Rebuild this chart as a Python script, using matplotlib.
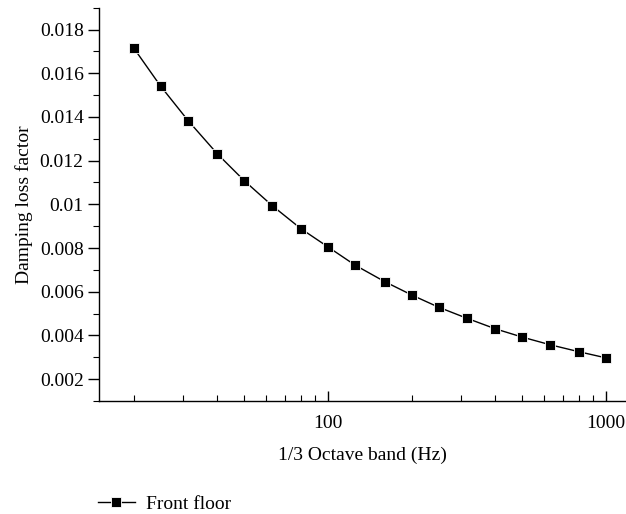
import numpy as np
import matplotlib
matplotlib.use("Agg")
import matplotlib.pyplot as plt
from matplotlib.ticker import LogLocator, FixedLocator, MultipleLocator, FuncFormatter

# ---------- data ----------
freq_hz = [20, 25, 31.5, 40, 50, 63, 80, 100, 125, 160, 200, 250,
           315, 400, 500, 630, 800, 1000]
loss_factor = [0.01716, 0.01541, 0.01381, 0.01231, 0.01108, 0.00994,
               0.00888, 0.00805, 0.00722, 0.00646, 0.00585, 0.00529,
               0.00479, 0.00430, 0.00392, 0.00357, 0.00325, 0.00297]
y_ticks = [0.002, 0.004, 0.006, 0.008, 0.01, 0.012, 0.014, 0.016, 0.018]
y_tick_labels = ["0.002", "0.004", "0.006", "0.008", "0.01", "0.012",
                 "0.014", "0.016", "0.018"]

plt.rcParams.update({
    "font.family": "serif",
    "font.serif": ["Liberation Serif", "DejaVu Serif"],
    "font.size": 14,
    "axes.linewidth": 1.0,
})

fig = plt.figure(figsize=(6.26, 5.14), dpi=100)
ax = fig.add_axes([0.158, 0.22, 0.842, 0.765])

line, = ax.plot(freq_hz, loss_factor, color="black", linewidth=1.0,
                marker="s", markersize=6.5, markerfacecolor="black",
                markeredgecolor="white", markeredgewidth=0.6,
                label="Front floor")

ax.set_xscale("log")
ax.set_xlim(15, 1180)
ax.set_ylim(0.001, 0.019)

ax.xaxis.set_major_locator(FixedLocator([100, 1000]))
ax.xaxis.set_major_formatter(FuncFormatter(lambda v, p: f"{int(v)}"))
ax.xaxis.set_minor_locator(LogLocator(base=10, subs=np.arange(2, 10)))
ax.xaxis.set_minor_formatter(FuncFormatter(lambda v, p: ""))

ax.set_yticks(y_ticks)
ax.set_yticklabels(y_tick_labels)
ax.yaxis.set_minor_locator(MultipleLocator(0.001))

ax.tick_params(axis="x", which="major", direction="in", length=7, width=1.0, pad=10)
ax.tick_params(axis="x", which="minor", direction="in", length=4, width=0.8)
ax.tick_params(axis="y", which="major", direction="out", length=8, width=1.0, pad=3)
ax.tick_params(axis="y", which="minor", direction="out", length=4.5, width=0.8)

ax.spines["top"].set_visible(False)
ax.spines["right"].set_visible(False)

ax.set_xlabel("1/3 Octave band (Hz)", labelpad=11)
ax.set_ylabel("Damping loss factor", labelpad=5)

fig.legend(handles=[line], loc="lower left", bbox_to_anchor=(0.128, -0.032),
           frameon=False, handlelength=1.9, handletextpad=0.6, fontsize=14)

fig.savefig("out.png", dpi=100, facecolor="white")
